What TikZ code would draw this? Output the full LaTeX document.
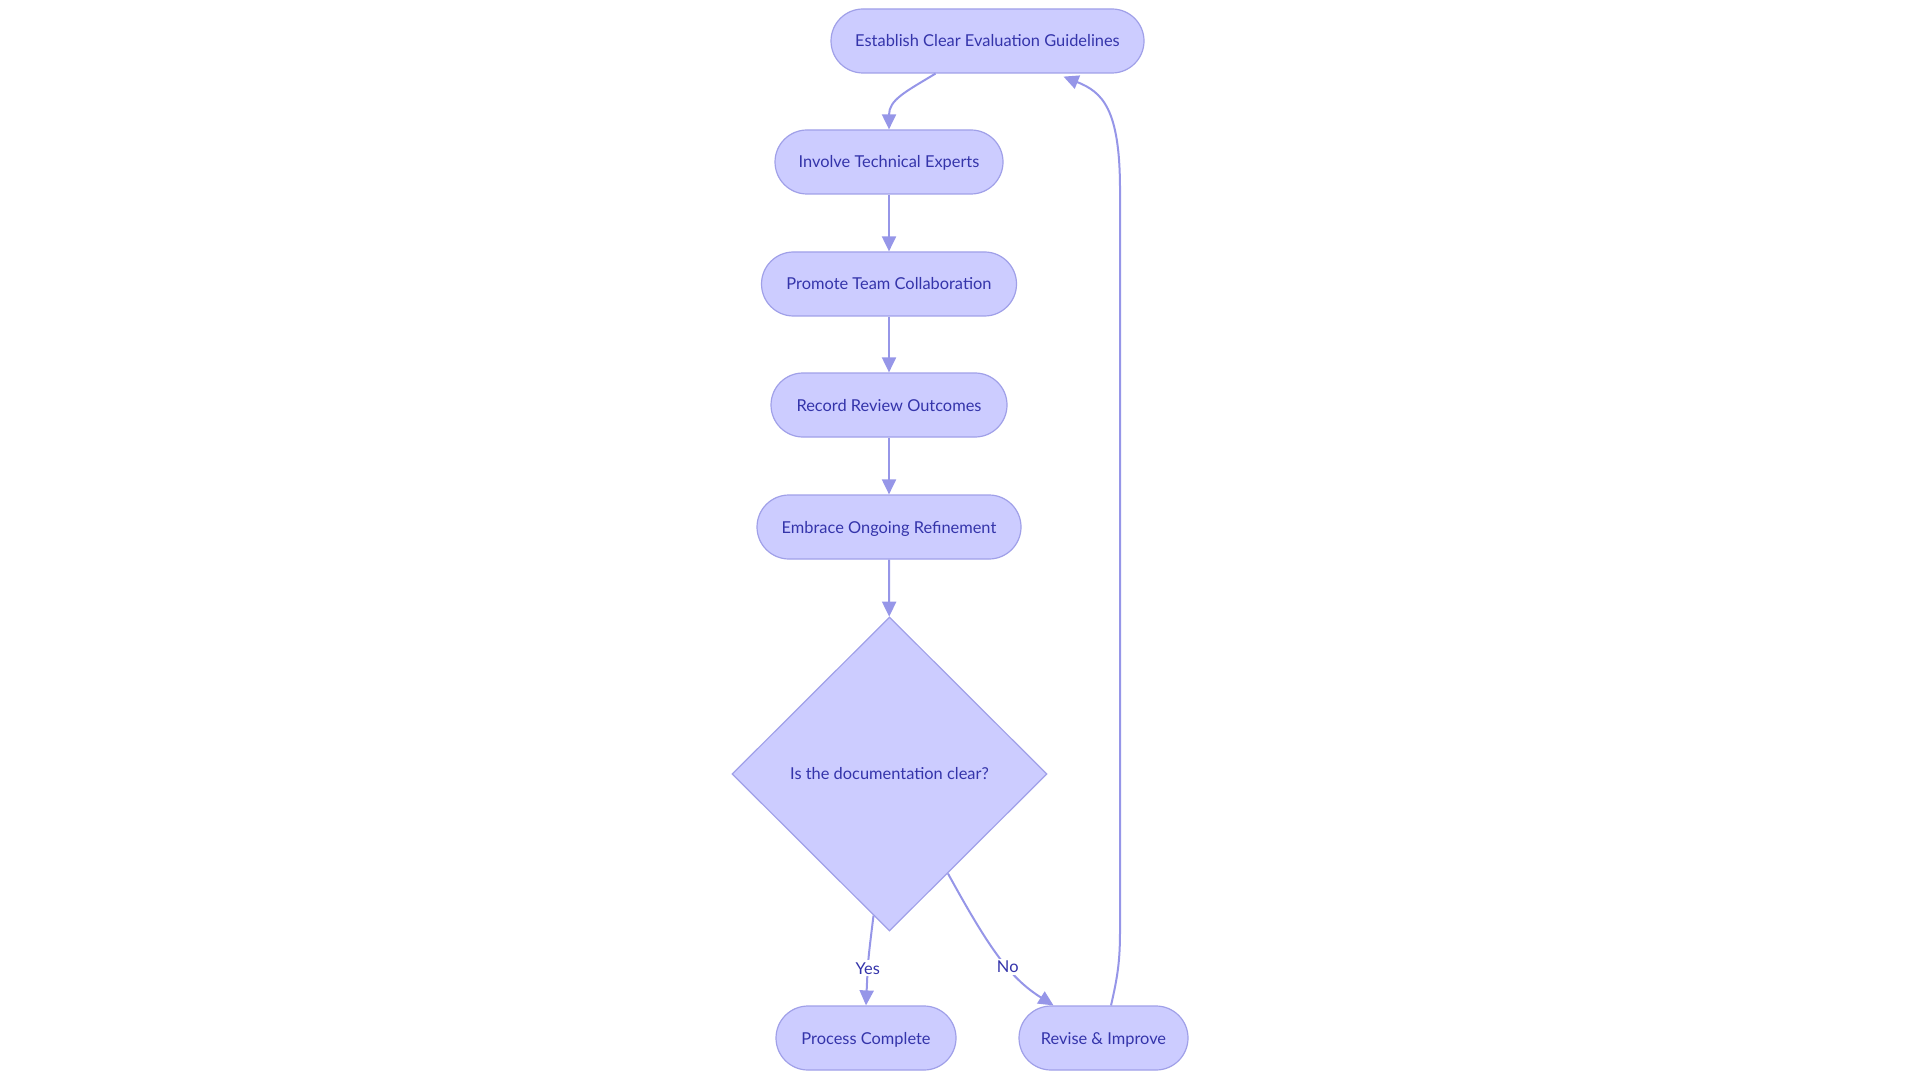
\documentclass[tikz,border=0pt]{standalone}
\usepackage{fontspec}
\setmainfont{Lato}
\usetikzlibrary{arrows.meta,shapes.geometric,calc}
\definecolor{nodefill}{RGB}{204,204,255}
\definecolor{nodeedge}{RGB}{160,160,232}
\definecolor{linecol}{RGB}{150,150,232}
\definecolor{txt}{RGB}{52,52,170}
\tikzset{
  pill/.style={draw=nodeedge, line width=0.6pt, fill=nodefill, rounded corners=16pt,
    minimum height=32pt, inner sep=0pt, text=txt, text height=7pt, text depth=1pt,
    font=\fontsize{8.2}{10}\selectfont},
  decision/.style={draw=nodeedge, line width=0.6pt, fill=nodefill, diamond, inner sep=0pt,
    minimum width=157.5pt, minimum height=157pt, text=txt, font=\fontsize{8.2}{10}\selectfont},
  flow/.style={draw=linecol, line width=1pt, -{Triangle[length=7.5pt,width=7pt]}},
  elabel/.style={fill=white, inner sep=1pt, text=txt, font=\fontsize{8.2}{10}\selectfont}
}
\begin{document}
\begin{tikzpicture}[x=0.5pt,y=-0.5pt]
\useasboundingbox (0,0) rectangle (1920,1080);
\node[pill, minimum width=156.5pt] (A) at (987.5,41) {Establish Clear Evaluation Guidelines};
\node[pill, minimum width=114pt] (B) at (889,162) {Involve Technical Experts};
\node[pill, minimum width=127.5pt] (C) at (889,284) {Promote Team Collaboration};
\node[pill, minimum width=118pt] (D) at (889,405) {Record Review Outcomes};
\node[pill, minimum width=132pt] (E) at (889,527) {Embrace Ongoing Refinement};
\node[decision] (F) at (889.5,774) {Is the documentation clear?};
\node[pill, minimum width=90pt] (G) at (866,1038) {Process Complete};
\node[pill, minimum width=84.5pt] (H) at (1103.5,1038) {Revise \& Improve};

\draw[flow] ($(A.south)+(-52,0)$) .. controls (905,92) and (889,100) .. (B.north);
\draw[flow] (B) -- (C);
\draw[flow] (C) -- (D);
\draw[flow] (D) -- (E);
\draw[flow] (E) -- (F);
\draw[flow] ($(F.south)+(-16,-16)$) .. controls (868,960) .. (G.north)
  node[elabel, pos=0.62] (yes) {Yes};
\draw[flow] ($(F.south)+(58.5,-58)$) .. controls (990,950) and (1010,978) .. ($(H.north)+(-50,0)$)
  node[elabel, pos=0.58] (no) {No};
\draw[flow] ($(H.north)+(7.5,0)$) .. controls (1118,975) and (1120,960) .. (1120,930)
  -- (1120,190) .. controls (1120,108) and (1102,92) .. ($(A.south)+(76,3)$);
\end{tikzpicture}
\end{document}
